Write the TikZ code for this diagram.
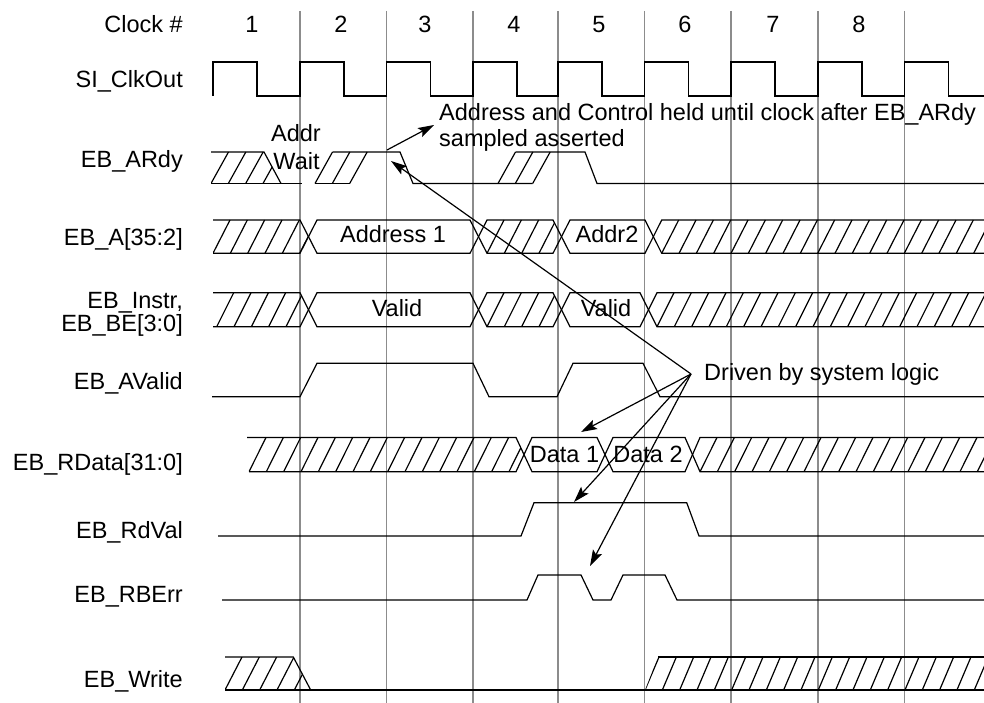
\documentclass[tikz,border=0pt]{standalone}
\usepackage{fontspec}
\setmainfont{Liberation Sans}
\usetikzlibrary{arrows.meta}
\newcommand\hatchlines[5]{% #1 xstart, #2 count, #3 ybot, #4 ytop, #5 dx
  \foreach \k in {0,...,#2} {\draw[hat] ({#1+\k*17.33},#3) -- ({#1+\k*17.33+#5},#4);}}
\begin{document}
\begin{tikzpicture}[x=1pt,y=-1pt,
  sig/.style={line width=1.2pt, black, line join=miter},
  hat/.style={line width=1.2pt, black},
  gridline/.style={line width=1.3pt, black!45},
  lbl/.style={anchor=base east, inner sep=0pt, font=\fontsize{23.5}{28}\selectfont},
  txt/.style={inner sep=0pt, font=\fontsize{23.5}{28}\selectfont},
  arr/.style={line width=1.2pt, -{Stealth[length=16pt,width=10pt,inset=3pt]}}]

\useasboundingbox (0,0) rectangle (984,703);

% clock grid lines
\foreach \x in {300,386.7,473,558,644.7,731,818,904.7}
  \draw[gridline] (\x,11) -- (\x,703);

% labels
\node[lbl] (lclk)   at (183,33)  {Clock \#};
\node[lbl] (lsi)    at (183,88)  {SI\_ClkOut};
\node[lbl] (lardy)  at (183,168) {EB\_ARdy};
\node[lbl] (la)     at (183,245) {EB\_A[35:2]};
\node[lbl] (linstr) at (183,308) {EB\_Instr,};
\node[lbl] (lbe)    at (183,331) {EB\_BE[3:0]};
\node[lbl] (lav)    at (183,389) {EB\_AValid};
\node[lbl] (lrd)    at (183,470) {EB\_RData[31:0]};
\node[lbl] (lrv)    at (183,538) {EB\_RdVal};
\node[lbl] (lrb)    at (183,602) {EB\_RBErr};
\node[lbl] (lw)     at (183,687) {EB\_Write};

% clock numbers
\node[txt,anchor=base] (c1) at (252,33) {1};
\node[txt,anchor=base] (c2) at (341,33) {2};
\node[txt,anchor=base] (c3) at (425,33) {3};
\node[txt,anchor=base] (c4) at (514,33) {4};
\node[txt,anchor=base] (c5) at (599,33) {5};
\node[txt,anchor=base] (c6) at (685,33) {6};
\node[txt,anchor=base] (c7) at (773,33) {7};
\node[txt,anchor=base] (c8) at (859,33) {8};

% SI_ClkOut
\draw[sig] (213,96)
  \foreach \r in {213,300,386.7,473,558,644.7,731,818} { -- (\r,96) -- (\r,62) -- (\r+44,62) -- (\r+44,96) }
  -- (904.7,96) -- (904.7,62) -- (948.7,62) -- (948.7,96) -- (984,96);

% EB_ARdy
\draw[sig] (211,152) -- (264,152) -- (281,183.5);
\draw[sig] (211,183.5) -- (302,183.5);
\begin{scope}
  \clip (211,152) -- (264,152) -- (281,183.5) -- (211,183.5) -- cycle;
  \hatchlines{211}{3}{183.5}{152}{17.5}
\end{scope}
\hatchlines{315}{2}{183.5}{152}{17.5}
\draw[sig] (315,183.5) -- (349.7,183.5);
\draw[sig] (332.5,152) -- (400,152) -- (413,183.5) -- (532.7,183.5);
\hatchlines{498}{2}{183.5}{152}{17.5}
\draw[sig] (515.5,152) -- (585,152) -- (597,183.5) -- (984,183.5);
\node[txt,anchor=base] (addr) at (296,141.7) {Addr};
\node[txt,anchor=base] (wait) at (296.5,170) {Wait};

% EB_A[35:2]
\draw[sig] (213,220) -- (300,220) -- (317,253.3) -- (470,253.3) -- (487,220) -- (553,220) -- (570,253.3) -- (645,253.3) -- (661.7,220) -- (984,220);
\draw[sig] (213,253.3) -- (300,253.3) -- (317,220) -- (470,220) -- (487,253.3) -- (553,253.3) -- (570,220) -- (645,220) -- (661.7,253.3) -- (984,253.3);
\begin{scope}
  \clip (213,220) -- (300,220) -- (308.5,236.7) -- (300,253.3) -- (213,253.3) -- cycle;
  \hatchlines{213}{5}{253.3}{220}{17}
\end{scope}
\begin{scope}
  \clip (478.5,236.7) -- (487,220) -- (553,220) -- (561.5,236.7) -- (553,253.3) -- (487,253.3) -- cycle;
  \hatchlines{487}{4}{253.3}{220}{17}
\end{scope}
\begin{scope}
  \clip (653.3,236.7) -- (661.7,220) -- (984,220) -- (984,253.3) -- (661.7,253.3) -- cycle;
  \hatchlines{661.7}{19}{253.3}{220}{17}
\end{scope}
\node[txt,anchor=base] (addr1) at (393,242.7) {Address 1};
\node[txt,anchor=base] (addr2) at (607,242.7) {Addr2};

% EB_Instr / EB_BE
\draw[sig] (213,292.7) -- (300,292.7) -- (317,326.7) -- (470,326.7) -- (487,292.7) -- (553,292.7) -- (570,326.7) -- (640,326.7) -- (657,292.7) -- (984,292.7);
\draw[sig] (213,326.7) -- (300,326.7) -- (317,292.7) -- (470,292.7) -- (487,326.7) -- (553,326.7) -- (570,292.7) -- (640,292.7) -- (657,326.7) -- (984,326.7);
\begin{scope}
  \clip (213,292.7) -- (300,292.7) -- (308.5,309.7) -- (300,326.7) -- (213,326.7) -- cycle;
  \hatchlines{216.7}{4}{326.7}{292.7}{17}
\end{scope}
\begin{scope}
  \clip (478.5,309.7) -- (487,292.7) -- (553,292.7) -- (561.5,309.7) -- (553,326.7) -- (487,326.7) -- cycle;
  \hatchlines{487}{4}{326.7}{292.7}{17}
\end{scope}
\begin{scope}
  \clip (648.5,309.7) -- (657,292.7) -- (984,292.7) -- (984,326.7) -- (657,326.7) -- cycle;
  \hatchlines{657}{19}{326.7}{292.7}{17}
\end{scope}
\node[txt,anchor=base] (valid1) at (397,316.7) {Valid};
\node[txt,anchor=base] (valid2) at (606,316.7) {Valid};

% EB_AValid
\draw[sig] (212,396.7) -- (300,396.7) -- (317,363.3) -- (473,363.3) -- (489,396.7) -- (557,396.7) -- (573,363.3) -- (643,363.3) -- (660,396.7) -- (984,396.7);

% EB_RData
\draw[sig] (247,437.5) -- (516,437.5) -- (532,471.7) -- (597,471.7) -- (613,437.5) -- (685,437.5) -- (700,471.7) -- (984,471.7);
\draw[sig] (249,471.7) -- (516,471.7) -- (532,437.5) -- (597,437.5) -- (613,471.7) -- (685,471.7) -- (700,437.5) -- (984,437.5);
\begin{scope}
  \clip (247,437.5) -- (516,437.5) -- (524,454.6) -- (516,471.7) -- (249,471.7) -- cycle;
  \hatchlines{249}{16}{471.7}{437.5}{17}
\end{scope}
\begin{scope}
  \clip (692.5,454.6) -- (700,437.5) -- (984,437.5) -- (984,471.7) -- (700,471.7) -- cycle;
  \hatchlines{700}{17}{471.7}{437.5}{17}
\end{scope}
\node[txt,anchor=base] (data1) at (564.5,462.7) {Data 1};
\node[txt,anchor=base] (data2) at (648,462.7) {Data 2};

% EB_RdVal
\draw[sig] (218,536) -- (521,536) -- (534,502.7) -- (686.7,502.7) -- (699,536) -- (984,536);

% EB_RBErr
\draw[sig] (222,600) -- (527,600) -- (538,575) -- (581,575) -- (593,600) -- (611,600) -- (623,575) -- (665,575) -- (677,600) -- (984,600);

% EB_Write
\draw[sig] (225,657) -- (293.3,657) -- (310.7,690);
\draw[sig] (225,690) -- (984,690);
\draw[sig] (658,657) -- (984,657);
\begin{scope}
  \clip (225,657) -- (293.3,657) -- (310.7,690) -- (225,690) -- cycle;
  \hatchlines{225}{4}{690}{657}{17}
\end{scope}
\begin{scope}
  \clip (645,690) -- (658,657) -- (984,657) -- (984,690) -- cycle;
  \hatchlines{645}{20}{690}{657}{14}
\end{scope}

% annotations
\node[txt,anchor=base west] (held1) at (439,121) {Address and Control held until clock after EB\_ARdy};
\node[txt,anchor=base west] (held2) at (439,147) {sampled asserted};
\node[txt,anchor=base west] (drv) at (704,380) {Driven by system logic};

\coordinate (a1s) at (387,150);
\coordinate (a1e) at (434,125);
\draw[arr] (a1s) -- (a1e);

\coordinate (fan) at (691,374);
\coordinate (t1) at (391,161);
\coordinate (t2) at (581,432);
\coordinate (t3) at (574,502);
\coordinate (t4) at (590,566);
\draw[arr] (fan) -- (t1);
\draw[arr] (fan) -- (t2);
\draw[arr] (fan) -- (t3);
\draw[arr] (fan) -- (t4);
\end{tikzpicture}
\end{document}
